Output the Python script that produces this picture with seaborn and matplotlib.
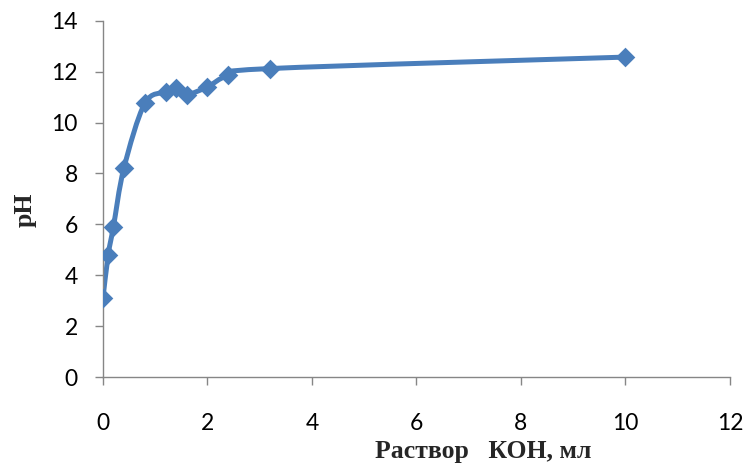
"""Titration curve: pH vs volume of KOH solution (Excel-style smoothed line)."""

import matplotlib
matplotlib.use("Agg")
import matplotlib.pyplot as plt
import numpy as np
import pandas as pd
import seaborn as sns
from matplotlib.path import Path
from matplotlib.patches import PathPatch

# Data
volume_ml = [0.0, 0.1, 0.2, 0.4, 0.8, 1.2, 1.4, 1.6, 2.0, 2.4, 3.2, 10.0]
ph_values = [3.1, 4.8, 5.9, 8.2, 10.75, 11.2, 11.35, 11.1, 11.4, 11.85, 12.12, 12.57]

x_ticks = [0, 2, 4, 6, 8, 10, 12]
y_ticks = [0, 2, 4, 6, 8, 10, 12, 14]

LINE_COLOR = "#4a7ebb"
AXIS_COLOR = "#868686"


def smooth_path(xs, ys):
    """Bezier path through the points, like Excel's 'smoothed line'."""
    pts = np.column_stack([xs, ys])
    n = len(pts)
    verts = [pts[0]]
    codes = [Path.MOVETO]
    for i in range(n - 1):
        p_prev = pts[i - 1] if i > 0 else pts[i]
        p_next2 = pts[i + 2] if i + 2 < n else pts[i + 1]
        c1 = pts[i] + (pts[i + 1] - p_prev) / 6.0
        c2 = pts[i + 1] - (p_next2 - pts[i]) / 6.0
        verts += [c1, c2, pts[i + 1]]
        codes += [Path.CURVE4] * 3
    return Path(verts, codes)


def main():
    sns.set_theme(style="white")
    plt.rcParams["font.family"] = ["Lato", "DejaVu Sans"]

    df = pd.DataFrame({"volume": volume_ml, "ph": ph_values})

    fig = plt.figure(figsize=(7.44, 4.63), dpi=100)
    ax = fig.add_axes([0.1384, 0.1857, 0.8427, 0.7696])

    ax.add_patch(PathPatch(smooth_path(df["volume"], df["ph"]),
                           facecolor="none", edgecolor=LINE_COLOR,
                           lw=3.6, capstyle="round", joinstyle="round",
                           zorder=2))
    sns.scatterplot(data=df, x="volume", y="ph", marker="D", s=100,
                    color=LINE_COLOR, edgecolor=LINE_COLOR, linewidth=0,
                    ax=ax, zorder=3)

    ax.set_xlim(0, 12)
    ax.set_ylim(0, 14)
    ax.set_xticks(x_ticks)
    ax.set_yticks(y_ticks)
    ax.set_xticklabels([str(t) for t in x_ticks])
    ax.set_yticklabels([str(t) for t in y_ticks])

    ax.tick_params(axis="both", which="major", direction="out", length=6,
                   width=1.0, color=AXIS_COLOR, labelsize=16.5,
                   labelcolor="black")
    ax.tick_params(axis="x", pad=20)
    ax.tick_params(axis="y", pad=12)
    ax.xaxis.set_ticks_position("bottom")
    ax.yaxis.set_ticks_position("left")

    for side in ("top", "right"):
        ax.spines[side].set_visible(False)
    for side in ("left", "bottom"):
        ax.spines[side].set_color(AXIS_COLOR)
        ax.spines[side].set_linewidth(1.0)

    label_font = dict(family=["Liberation Serif", "DejaVu Serif"],
                      weight="bold", size=18.5)
    ax.set_xlabel("Раствор   КОН, мл", **label_font)
    ax.set_ylabel("pH", **label_font)
    ax.xaxis.label.set_va("baseline")
    ax.xaxis.set_label_coords((483 - 103) / 627, -(458 - 377) / 356.3)
    ax.yaxis.set_label_coords(-(103 - 37) / 627, 0.47)

    fig.savefig("out.png", dpi=100)


if __name__ == "__main__":
    main()
